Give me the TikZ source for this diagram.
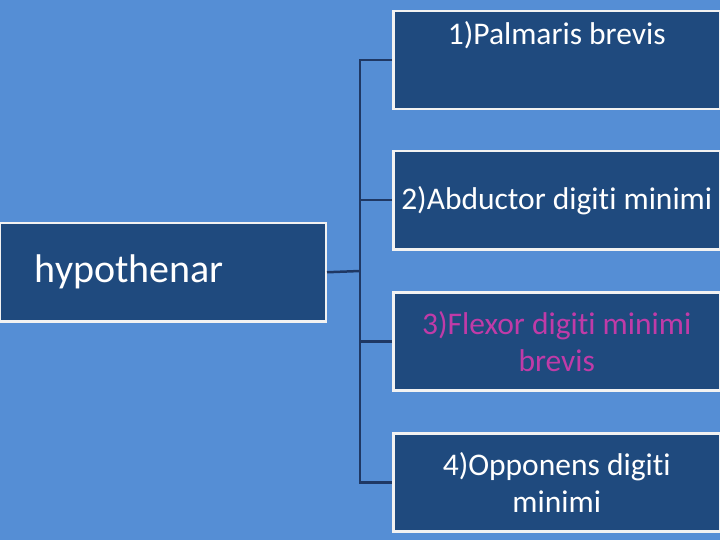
\documentclass[tikz,border=0pt]{standalone}
\usepackage{fontspec}
\setmainfont[Ligatures=NoCommon]{Carlito}
\definecolor{bg}{HTML}{558ED5}
\definecolor{bx}{HTML}{1F4A7E}
\definecolor{ln}{HTML}{1F3864}
\definecolor{mg}{HTML}{C03BA8}
\begin{document}
\begin{tikzpicture}[x=1pt,y=-1pt,
 bxs/.style={draw=white!90!gray,line width=2.5pt,fill=bx,minimum width=327pt,minimum height=98pt,inner sep=0pt,anchor=north west,text=white,font=\fontsize{31.5}{37}\selectfont,align=center},
 con/.style={draw=ln,line width=2.5pt}]
\fill[bg] (0,0) rectangle (720,540);
\useasboundingbox (0,0) rectangle (720,540);
\node[bxs] (b1) at (392,10) {1)Palmaris brevis\\[18pt]};
\node[bxs] (b2) at (392,150) {2)Abductor digiti minimi};
\node[bxs,text=mg] (b3) at (392,291) {3)Flexor digiti minimi\\brevis};
\node[bxs] (b4) at (392,432) {4)Opponens digiti\\minimi};
\node[bxs,minimum width=326pt,anchor=north east,font=\fontsize{40}{42}\selectfont,text width=256pt,align=left] (h) at (327,222) {hypothenar};
\coordinate (j) at (360,271);
\draw[con] (h.east) -- (j);
\draw[con] (b1.west) -| (j) |- (b4.west);
\draw[con] (b2.west) -- (b2.west -| j);
\draw[con] (b3.west) -- (b3.west -| j);
\end{tikzpicture}
\end{document}
